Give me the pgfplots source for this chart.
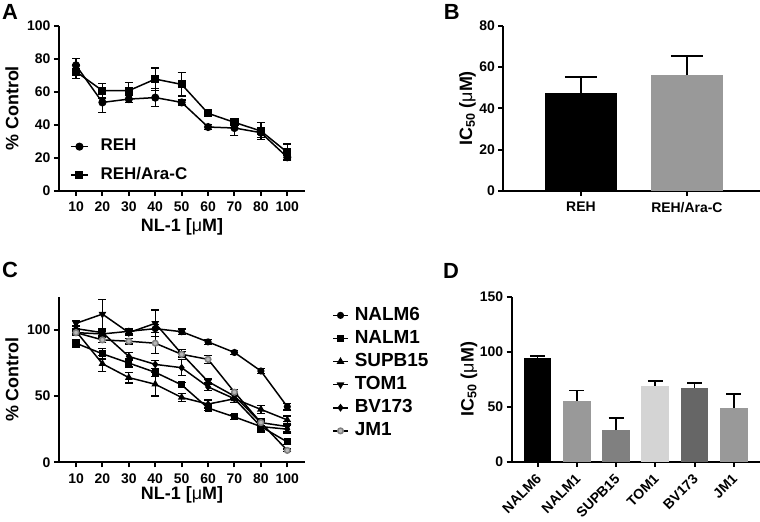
\documentclass[border=0pt]{standalone}
\usepackage{fontspec}
\setmainfont{Liberation Sans}
\usepackage{pgfplots}
\pgfplotsset{compat=1.18}
\definecolor{gD1}{gray}{0.6}
\definecolor{gD2}{gray}{0.5}
\definecolor{gD3}{gray}{0.83}
\definecolor{gD4}{gray}{0.4}
\newcommand{\lblfont}{\bfseries\fontsize{18}{18}\selectfont}
\pgfplotsset{
  prism/.style={
    scale only axis,
    anchor=south west,
    axis x line*=bottom, axis y line*=left,
    axis line style={line width=2bp,-},
    x axis line style={-}, y axis line style={-},
    tick align=outside,
    major tick length=5bp,
    tick style={line width=2bp, black},
    minor tick num=0,
    /pgf/number format/assume math mode=true,
    tick label style={font=\bfseries\fontsize{14}{14}\selectfont},
    xticklabel style={yshift=-2.5bp},
    clip=false,
  },
  lineerr/.style={line width=1.5bp, black,
    error bars/y dir=both, error bars/y explicit,
    error bars/error bar style={line width=1.3bp, black},
    error bars/error mark options={rotate=90, mark size=4bp, line width=1.3bp, black}},
  barerr/.style={draw=none,
    error bars/y dir=plus, error bars/y explicit,
    error bars/error bar style={line width=1.8bp, draw=black},
    error bars/error mark options={rotate=90, mark size=#1, line width=1.8bp, draw=black}},
}
\begin{document}
\begin{tikzpicture}
\useasboundingbox (0bp,0bp) rectangle (760bp,522bp);

% ---------- Panel A ----------
\begin{axis}[prism, at={(59bp,331bp)}, width=246bp, height=165.3bp,
  xmin=-0.644, xmax=8.67, ymin=0, ymax=100,
  xtick={0,...,8}, xticklabels={10,20,30,40,50,60,70,80,100},
  ytick={0,20,...,100},
  xlabel={NL-1 [{\mdseries μ}M]}, ylabel={\% Control},
  every axis x label/.style={at={(axis description cs:0.5,-0.22)}, anchor=center, font=\lblfont},
  every axis y label/.style={at={(axis description cs:-0.191,0.5)}, rotate=90, anchor=center, font=\lblfont},
  legend style={draw=none, fill=none, at={(axis description cs:0.0447,0.318)}, anchor=north west,
    inner sep=0pt, row sep=12.4bp, font=\bfseries\fontsize{17}{17}\selectfont,
    nodes={inner sep=0pt, text height=12bp, text depth=4bp},
    /tikz/every odd column/.append style={column sep=12bp}},
  legend cell align=left,
  legend image code/.code={\draw[mark repeat=2,mark phase=2] plot coordinates {(0bp,0bp) (8.5bp,0bp) (17bp,0bp)};},
]
\addplot[lineerr, mark=*, mark size=3.3bp] coordinates {
 (0,76) +- (0,4) (1,53.6) +- (0,6) (2,55.6) +- (0,2) (3,56.5) +- (0,5.3) (4,53.6) +- (0,1.5)
 (5,38.7) +- (0,1.5) (6,38.1) +- (0,4.6) (7,35.3) +- (0,3) (8,20.4) +- (0,1.5)};
\addlegendentry{REH}
\addplot[lineerr, mark=square*, mark size=3.3bp] coordinates {
 (0,72.2) +- (0,4) (1,60.7) +- (0,4.5) (2,60.7) +- (0,5) (3,67.7) +- (0,6.7) (4,64.5) +- (0,7)
 (5,47) +- (0,1.5) (6,41.5) +- (0,2) (7,36.3) +- (0,5) (8,23.4) +- (0,5)};
\addlegendentry{REH/Ara-C}
\end{axis}

% ---------- Panel B ----------
\begin{axis}[prism, at={(503.3bp,331bp)}, width=256.7bp, height=165.3bp,
  xmin=-0.733, xmax=1.69, ymin=0, ymax=80, ytick={0,20,...,80},
  xtick={0,1}, xticklabels={REH,REH/Ara-C},
  ylabel={IC\textsubscript{50} ({\mdseries μ}M)},
  every axis y label/.style={at={(axis description cs:-0.14,0.5)}, rotate=90, anchor=center, font=\lblfont},
  ybar, bar width=0.68, bar shift=0pt,
]
\addplot[fill=black, barerr=16bp] coordinates {(0,47.3) +- (0,7.7)};
\addplot[fill=gD1, barerr=16bp] coordinates {(1,56.1) +- (0,9.2)};
\end{axis}

% ---------- Panel C ----------
\begin{axis}[prism, at={(59bp,59.7bp)}, width=246bp, height=165.4bp,
  xmin=-0.644, xmax=8.67, ymin=0, ymax=125,
  xtick={0,...,8}, xticklabels={10,20,30,40,50,60,70,80,100},
  ytick={0,50,100},
  xlabel={NL-1 [{\mdseries μ}M]}, ylabel={\% Control},
  every axis x label/.style={at={(axis description cs:0.5,-0.195)}, anchor=center, font=\lblfont},
  every axis y label/.style={at={(axis description cs:-0.191,0.5)}, rotate=90, anchor=center, font=\lblfont},
  legend style={draw=none, fill=none, at={(axis description cs:1.11,0.944)}, anchor=north west,
    inner sep=0pt, row sep=5.1bp, font=\bfseries\fontsize{19}{19}\selectfont,
    nodes={inner sep=0pt, text height=14bp, text depth=4bp},
    /tikz/every odd column/.append style={column sep=6bp}},
  legend cell align=left,
  legend image code/.code={\draw[mark repeat=2,mark phase=2] plot coordinates {(0bp,0bp) (7.5bp,0bp) (15bp,0bp)};},
]
\addplot[lineerr, mark=*, mark size=2.8bp] coordinates {
 (0,98) +- (0,2) (1,97) +- (0,2) (2,99) +- (0,2) (3,101) +- (0,3) (4,98.7) +- (0,2)
 (5,91) +- (0,2) (6,83) +- (0,1.5) (7,69) +- (0,2) (8,42) +- (0,2.5)};
\addlegendentry{NALM6}
\addplot[lineerr, mark=square*, mark size=2.8bp] coordinates {
 (0,90) +- (0,3) (1,82) +- (0,4) (2,75) +- (0,3) (3,68) +- (0,3) (4,58.5) +- (0,2)
 (5,41) +- (0,2) (6,34.3) +- (0,2) (7,27) +- (0,3) (8,15.4) +- (0,2)};
\addlegendentry{NALM1}
\addplot[lineerr, mark=triangle*, mark size=3bp] coordinates {
 (0,99) +- (0,2) (1,74.5) +- (0,6) (2,64) +- (0,4) (3,59) +- (0,9) (4,49) +- (0,3)
 (5,44) +- (0,3) (6,48) +- (0,3) (7,40) +- (0,3) (8,32) +- (0,3)};
\addlegendentry{SUPB15}
\addplot[lineerr, mark=triangle*, mark size=3bp, mark options={rotate=180}] coordinates {
 (0,105) +- (0,2) (1,112) +- (0,11) (2,98) +- (0,2) (3,105) +- (0,10) (4,82) +- (0,3)
 (5,61) +- (0,2) (6,50) +- (0,2) (7,30) +- (0,3) (8,27) +- (0,4)};
\addlegendentry{TOM1}
\addplot[lineerr, mark=diamond*, mark size=2.8bp] coordinates {
 (0,101) +- (0,2) (1,98) +- (0,2) (2,80) +- (0,3) (3,74) +- (0,3) (4,71.5) +- (0,6)
 (5,57) +- (0,3) (6,48) +- (0,3) (7,27) +- (0,4) (8,25) +- (0,3)};
\addlegendentry{BV173}
\addplot[lineerr, mark=*, mark size=2.8bp, mark options={fill=gray!55, draw=gray}] coordinates {
 (0,98) +- (0,2) (1,92.5) +- (0,2) (2,91.5) +- (0,2) (3,90) +- (0,8) (4,81.6) +- (0,2)
 (5,77.8) +- (0,3) (6,53) +- (0,2) (7,30) +- (0,2) (8,9) +- (0,1)};
\addlegendentry{JM1}
\end{axis}

% ---------- Panel D ----------
\begin{axis}[prism, at={(511.7bp,60.3bp)}, width=248.3bp, height=165bp,
  xmin=-0.66, xmax=5.67, ymin=0, ymax=150, ytick={0,50,100,150},
  xtick={0,...,5}, xticklabels={NALM6,NALM1,SUPB15,TOM1,BV173,JM1},
  xticklabel style={rotate=45, anchor=east, xshift=-1bp, yshift=-6bp},
  ylabel={IC\textsubscript{50} ({\mdseries μ}M)},
  every axis y label/.style={at={(axis description cs:-0.172,0.5)}, rotate=90, anchor=center, font=\lblfont},
  ybar, bar width=0.707, bar shift=0pt,
]
\addplot[fill=black, barerr=7.5bp] coordinates {(0,93.9) +- (0,2.5)};
\addplot[fill=gD1, barerr=7.5bp] coordinates {(1,55.2) +- (0,9.6)};
\addplot[fill=gD2, barerr=7.5bp] coordinates {(2,28.8) +- (0,11.2)};
\addplot[fill=gD3, barerr=7.5bp] coordinates {(3,69.1) +- (0,3.9)};
\addplot[fill=gD4, barerr=7.5bp] coordinates {(4,67.3) +- (0,4.2)};
\addplot[fill=gD1, barerr=7.5bp] coordinates {(5,49.1) +- (0,12.4)};
\end{axis}

\node[font=\bfseries\fontsize{22}{22}\selectfont] at (10bp,510.3bp) {A};
\node[font=\bfseries\fontsize{22}{22}\selectfont] at (451.7bp,510.3bp) {B};
\node[font=\bfseries\fontsize{22}{22}\selectfont] at (10bp,252bp) {C};
\node[font=\bfseries\fontsize{22}{22}\selectfont] at (451bp,251bp) {D};
\end{tikzpicture}
\end{document}
